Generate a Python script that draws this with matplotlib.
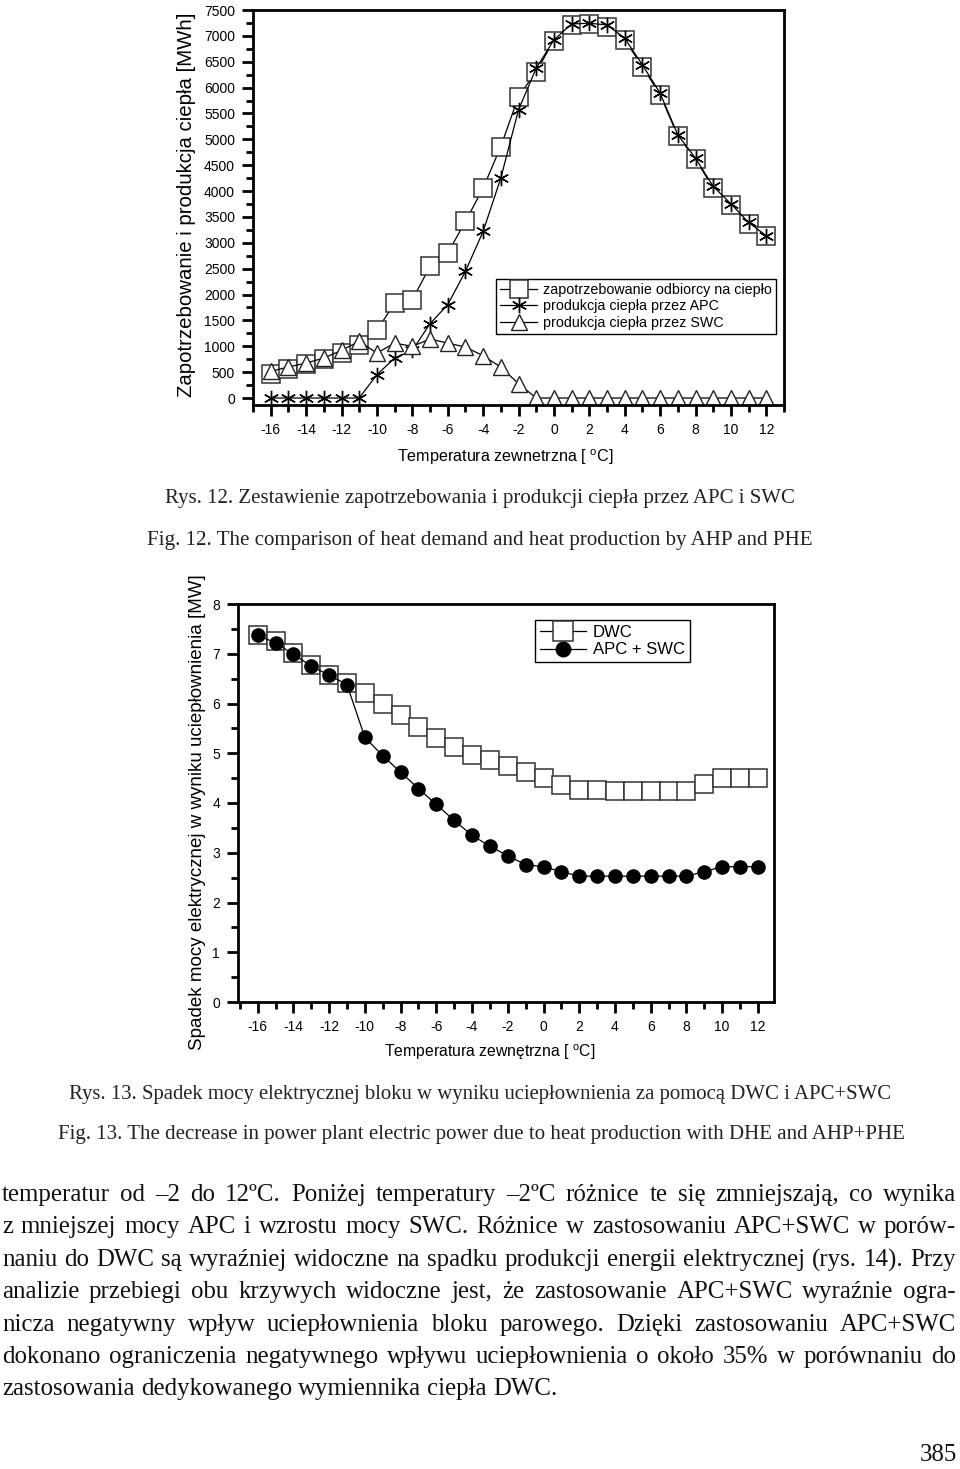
import matplotlib
matplotlib.use('Agg')
import matplotlib.pyplot as plt
from matplotlib.ticker import MultipleLocator

plt.rcParams['font.family'] = ['Liberation Sans', 'DejaVu Sans']
plt.rcParams['mathtext.fontset'] = 'custom'
plt.rcParams['mathtext.rm'] = 'Liberation Sans'
plt.rcParams['axes.unicode_minus'] = False

# temperatura zewnetrzna [C]
temp = list(range(-16, 13))

# rys. 12 [MWh]
demand = [470, 560, 663, 753, 869, 1030, 1307, 1835, 1900, 2543, 2800, 3412, 4056, 4861, 5827,
          6310, 6909, 7212, 7225, 7180, 6922, 6407, 5860, 5068, 4617, 4056, 3735, 3368, 3136]
apc = [0, 0, 0, 0, 0, 0, 450, 773, 921, 1436, 1803, 2447, 3220, 4250, 5570,
       6375, 6922, 7231, 7244, 7212, 6954, 6440, 5892, 5087, 4636, 4089, 3754, 3393, 3136]
swc = [515, 599, 676, 773, 921, 1095, 869, 1062, 998, 1140, 1062, 985, 818, 599, 277,
       0, 0, 0, 0, 0, 0, 0, 0, 0, 0, 0, 0, 0, 0]

# rys. 13 [MW]
dwc = [7.37, 7.26, 7.02, 6.77, 6.58, 6.42, 6.21, 5.98, 5.76, 5.52, 5.30, 5.12, 4.97, 4.87, 4.75,
       4.63, 4.51, 4.37, 4.26, 4.26, 4.24, 4.24, 4.24, 4.24, 4.24, 4.39, 4.51, 4.51, 4.51]
apc_swc = [7.37, 7.22, 6.99, 6.75, 6.57, 6.38, 5.32, 4.95, 4.62, 4.29, 3.97, 3.65, 3.35, 3.13, 2.94,
           2.76, 2.72, 2.62, 2.53, 2.53, 2.53, 2.53, 2.53, 2.53, 2.53, 2.62, 2.72, 2.72, 2.72]

labels12 = ['zapotrzebowanie odbiorcy na ciepło', 'produkcja ciepła przez APC', 'produkcja ciepła przez SWC']
labels13 = ['DWC', 'APC + SWC']

par = ['temperatur od –2 do 12ºC. Poniżej temperatury –2ºC różnice te się zmniejszają, co wynika',
       'z mniejszej mocy APC i wzrostu mocy SWC. Różnice w zastosowaniu APC+SWC w porów-',
       'naniu do DWC są  wyraźniej widoczne na spadku produkcji energii elektrycznej (rys. 14). Przy',
       'analizie przebiegi obu krzywych widoczne jest, że zastosowanie APC+SWC wyraźnie ogra-',
       'nicza negatywny wpływ uciepłownienia bloku parowego. Dzięki zastosowaniu APC+SWC',
       'dokonano ograniczenia negatywnego wpływu uciepłownienia o około 35% w porównaniu do',
       'zastosowania dedykowanego wymiennika ciepła DWC.']

W, H = 960, 1469
fig = plt.figure(figsize=(W / 100, H / 100), dpi=100)
r = fig.canvas.get_renderer()
serif = ['Liberation Serif', 'DejaVu Serif']


def ax_box(x0, y0, x1, y1):
    return fig.add_axes([x0 / W, 1 - y1 / H, (x1 - x0) / W, (y1 - y0) / H])


def style(ax):
    for s in ax.spines.values():
        s.set_linewidth(2)
    ax.tick_params(which='both', direction='out', top=False, right=False, width=2, labelsize=10)
    ax.tick_params(which='major', length=8, pad=5)
    ax.tick_params(which='minor', length=5)
    ax.xaxis.set_major_locator(MultipleLocator(2))
    ax.xaxis.set_minor_locator(MultipleLocator(1))


def fit(x, y, s, width, rot=0, **kw):
    t = fig.text(x / W, 1 - y / H, s, fontsize=10, ha='center', va='center', **kw)
    w = t.get_window_extent(r).width
    t.set_fontsize(10 * width / w)
    t.set_rotation(rot)
    return t


# ---- rys 12
ax1 = ax_box(253, 10, 784, 405)
ax1.plot(temp, demand, color='black', lw=0.9, marker='s', ms=13, mfc='white', mec='#333333', mew=1.1, label=labels12[0])
ax1.plot(temp, apc, color='black', lw=0.9, marker=(6, 2, 0), ms=11, mec='black', mew=1.0, label=labels12[1])
ax1.plot(temp, swc, color='black', lw=0.9, marker='^', ms=11, mfc='white', mec='#222222', mew=1.0, label=labels12[2])
ax1.set_xlim(-17, 13)
ax1.set_ylim(-135, 7500)
style(ax1)
ax1.yaxis.set_major_locator(MultipleLocator(500))
ax1.yaxis.set_minor_locator(MultipleLocator(250))
leg = ax1.legend(loc='upper right', bbox_to_anchor=(0.985, 0.319), fontsize=10.3, handlelength=2.6,
                 fancybox=False, edgecolor='black', framealpha=1, borderpad=0.3, labelspacing=0.15,
                 handletextpad=0.4, borderaxespad=0)
leg.get_frame().set_linewidth(1)

fit(187, 205, 'Zapotrzebowanie i produkcja ciepła [MWh]', 385, rot=90)
fit(505, 457, r'Temperatura zewnetrzna [ $^{\mathrm{o}}$C]', 217)
fit(480, 498, 'Rys. 12. Zestawienie zapotrzebowania i produkcji ciepła przez APC i SWC', 630, family=serif, color='#222222')
fit(480, 540, 'Fig. 12. The comparison of heat demand and heat production by AHP and PHE', 664, family=serif, color='#222222')

# ---- rys 13
ax2 = ax_box(238, 604, 774, 1002)
ax2.plot(temp, dwc, color='black', lw=0.9, marker='s', ms=12.5, mfc='white', mec='#333333', mew=1.1, label=labels13[0])
ax2.plot(temp, apc_swc, color='black', lw=0.9, marker='o', ms=9.5, mfc='black', mec='black', label=labels13[1])
ax2.set_xlim(-17.1, 12.9)
ax2.set_ylim(0, 8)
style(ax2)
ax2.yaxis.set_major_locator(MultipleLocator(1))
ax2.yaxis.set_minor_locator(MultipleLocator(0.5))
leg = ax2.legend(loc='upper right', bbox_to_anchor=(0.843, 0.96), fontsize=12, handlelength=2.8,
                 markerscale=1.1, fancybox=False, edgecolor='black', framealpha=1, borderpad=0.3,
                 labelspacing=0.15, handletextpad=0.4, borderaxespad=0)
leg.get_frame().set_linewidth(1)

fit(197, 812, 'Spadek mocy elektrycznej w wyniku uciepłownienia [MW]', 478, rot=90)
fit(490, 1052, r'Temperatura zewnętrzna [ $^{\mathrm{o}}$C]', 211)
fit(480, 1094, 'Rys. 13. Spadek mocy elektrycznej bloku w wyniku uciepłownienia za pomocą DWC i APC+SWC', 825, family=serif, color='#222222')
fit(481, 1135, 'Fig. 13. The decrease in power plant electric power due to heat production with DHE and AHP+PHE', 842, family=serif, color='#222222')

# ---- tekst (justowany), rozmiar tak, by najdluzsza linia sie miescila
fs = 30
for line in par[:-1]:
    probe = fig.text(0, 0, ' '.join(line.split()), fontsize=10, family=serif)
    fs = min(fs, 10 * 945 / probe.get_window_extent(r).width)
    probe.remove()

ys = [1195, 1227, 1260, 1292, 1325, 1357, 1389]
for i, (line, y) in enumerate(zip(par, ys)):
    words = line.split()
    ts = [fig.text(0, 1 - y / H, w, fontsize=fs, family=serif, va='center', color='#111111') for w in words]
    ws = [t.get_window_extent(r).width for t in ts]
    if i == len(par) - 1:
        gap = fs * 0.25 * 100 / 72
    else:
        gap = (956 - 2 - sum(ws)) / (len(words) - 1)
    x = 2
    for t, w in zip(ts, ws):
        t.set_x(x / W)
        x += w + gap

fig.text(957 / W, 1 - 1455 / H, '385', fontsize=fs, family=serif, ha='right', va='center', color='#111111')

fig.savefig('out.png', dpi=100)
